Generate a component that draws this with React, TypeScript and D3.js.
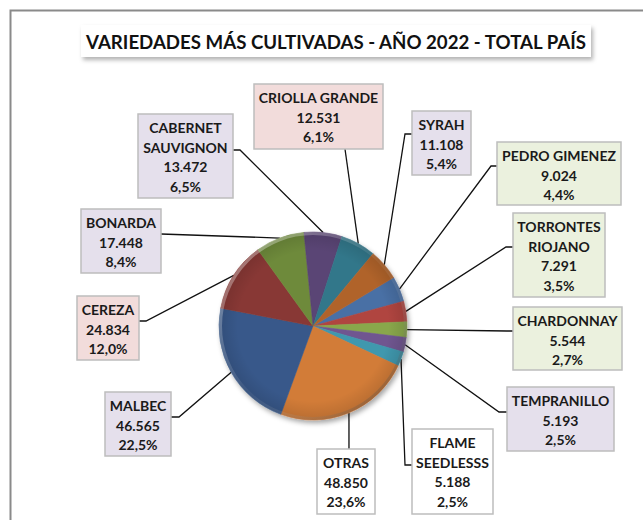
import React from 'react';
import * as d3 from 'd3';

// ---- Data (clockwise order, as drawn in the pie) ----
const categories = [
  'PEDRO GIMENEZ',
  'TORRONTES\nRIOJANO',
  'CHARDONNAY',
  'TEMPRANILLO',
  'FLAME\nSEEDLESSS',
  'OTRAS',
  'MALBEC',
  'CEREZA',
  'BONARDA',
  'CABERNET\nSAUVIGNON',
  'CRIOLLA GRANDE',
  'SYRAH',
];
const hectares = [9024, 7291, 5544, 5193, 5188, 48850, 46565, 24834, 17448, 13472, 12531, 11108];
const titleText = 'VARIEDADES MÁS CULTIVADAS - AÑO 2022 - TOTAL PAÍS';

// ---- Styles ----
const sliceColors = [
  '#4a6fa5', '#b0443f', '#89a74b', '#6f5690', '#3f98ae', '#d27b38',
  '#37598a', '#883835', '#6e8a3a', '#5a4474', '#31778a', '#b0632c',
];
const PINK = '#f2dcdb', LAV = '#e5e0ec', GRN = '#ebf1de', WHT = '#ffffff';
const labelFills = [GRN, GRN, GRN, LAV, WHT, WHT, LAV, PINK, LAV, LAV, PINK, LAV];

// ---- Layout of label boxes (x, y, w, h, anchor point, optional elbow) ----
const labelLayout = [
  { x: 497, y: 142, w: 124, h: 63, ax: 497, ay: 166, ex: 491, ey: 166 },
  { x: 513, y: 213, w: 92, h: 84, ax: 513, ay: 247, ex: 506, ey: 247 },
  { x: 513, y: 307, w: 109, h: 63, ax: 513, ay: 331, ex: 507, ey: 331 },
  { x: 507, y: 387, w: 107, h: 64, ax: 507, ay: 412, ex: 499, ey: 412 },
  { x: 412, y: 429, w: 81, h: 85, ax: 412, ay: 465, ex: 405, ey: 465 },
  { x: 317, y: 449, w: 58, h: 65, ax: 349, ay: 449, ex: null, ey: null },
  { x: 105, y: 392, w: 66, h: 64, ax: 171, ay: 417, ex: 179, ey: 417 },
  { x: 77, y: 296, w: 62, h: 64, ax: 139, ay: 321, ex: 146, ey: 321 },
  { x: 81, y: 209, w: 80, h: 64, ax: 161, ay: 234, ex: null, ey: null },
  { x: 138, y: 114, w: 95, h: 84, ax: 233, ay: 150, ex: 240, ey: 150 },
  { x: 254, y: 84, w: 129, h: 65, ax: 345, ay: 149, ex: null, ey: null },
  { x: 412, y: 111, w: 59, h: 64, ax: 412, ay: 134, ex: 405, ey: 134 },
];

const W = 643, H = 520;
const CX = 313, CY = 326, R = 94;
const START_DEG = 59;
const FONT = 'Lato, "Open Sans", "DejaVu Sans", sans-serif';

export default function App() {
  const locale = d3.formatLocale({ decimal: ',', thousands: '.', grouping: [3], currency: ['', ''] });
  const fmtN = locale.format(',d');
  const fmtP = locale.format('.1%');
  const total = d3.sum(hectares);

  const a0 = (START_DEG * Math.PI) / 180;
  const pie = d3.pie<number>().sort(null).value((d) => d).startAngle(a0).endAngle(a0 + 2 * Math.PI);
  const arcs = pie(hectares);
  const arcGen = d3.arc<d3.PieArcDatum<number>>().innerRadius(0).outerRadius(R);
  const edgeGen = d3.arc<d3.PieArcDatum<number>>().innerRadius(R).outerRadius(R);
  const line = d3.line();

  return (
    <div style={{ position: 'fixed', left: 0, top: 0 }}>
      <svg width={W} height={H} style={{ display: 'block', background: '#fff' }}>
        <defs>
          <filter id="titleShadow" x="-10%" y="-30%" width="130%" height="180%">
            <feDropShadow dx="2" dy="3" stdDeviation="2" floodColor="#000" floodOpacity="0.3" />
          </filter>
          <filter id="pieShadow" x="-20%" y="-20%" width="150%" height="150%">
            <feDropShadow dx="2" dy="3" stdDeviation="2.5" floodColor="#000" floodOpacity="0.35" />
          </filter>
          <linearGradient id="rimGrad" x1="0" y1="0" x2="1" y2="1">
            <stop offset="0" stopColor="#fff" stopOpacity="0.45" />
            <stop offset="0.5" stopColor="#fff" stopOpacity="0.05" />
            <stop offset="1" stopColor="#000" stopOpacity="0.35" />
          </linearGradient>
          <radialGradient id="pieShade" cx="0.5" cy="0.5" r="0.5">
            <stop offset="0.8" stopColor="#000" stopOpacity="0" />
            <stop offset="1" stopColor="#000" stopOpacity="0.12" />
          </radialGradient>
        </defs>

        {/* outer frame */}
        <path d={`M10.5,${H} V10.5 H${W}`} fill="none" stroke="#8a8a8a" strokeWidth={2} />

        {/* title */}
        <rect x={81} y={25} width={510} height={32} fill="#fff" filter="url(#titleShadow)" />
        <text
          x={336}
          y={48.5}
          textAnchor="middle"
          fontFamily={FONT}
          fontWeight="bold"
          fontSize={19.5}
          fill="#111"
          textLength={500}
          lengthAdjust="spacingAndGlyphs"
        >
          {titleText}
        </text>

        {/* leader lines */}
        {arcs.map((d, i) => {
          const L = labelLayout[i];
          const [px, py] = edgeGen.centroid(d);
          const pts: [number, number][] = [[L.ax, L.ay]];
          if (L.ex !== null) pts.push([L.ex, L.ey as number]);
          pts.push([CX + px, CY + py]);
          return <path key={'l' + i} d={line(pts) || ''} fill="none" stroke="#111" strokeWidth={1.3} />;
        })}

        {/* pie */}
        <g transform={`translate(${CX},${CY})`}>
          <g filter="url(#pieShadow)">
            {arcs.map((d, i) => (
              <path key={'s' + i} d={arcGen(d) || ''} fill={sliceColors[i]} stroke={sliceColors[i]} strokeWidth={0.5} />
            ))}
          </g>
          <circle r={R} fill="url(#pieShade)" />
          <circle r={R - 1.5} fill="none" stroke="url(#rimGrad)" strokeWidth={3} />
        </g>

        {/* label boxes */}
        {arcs.map((d, i) => {
          const L = labelLayout[i];
          const lines = [...categories[i].split('\n'), fmtN(hectares[i]), fmtP(hectares[i] / total)];
          const cxText = L.x + L.w / 2;
          return (
            <g key={'b' + i}>
              <rect x={L.x} y={L.y} width={L.w} height={L.h} fill={labelFills[i]} stroke="#bdbdbd" strokeWidth={1.5} />
              {lines.map((t, j) => (
                <text
                  key={j}
                  x={cxText}
                  y={L.y + 19 + j * 19.6}
                  textAnchor="middle"
                  fontFamily={FONT}
                  fontWeight="bold"
                  fontSize={14}
                  fill="#1a1a1a"
                >
                  {t}
                </text>
              ))}
            </g>
          );
        })}
      </svg>
    </div>
  );
}
